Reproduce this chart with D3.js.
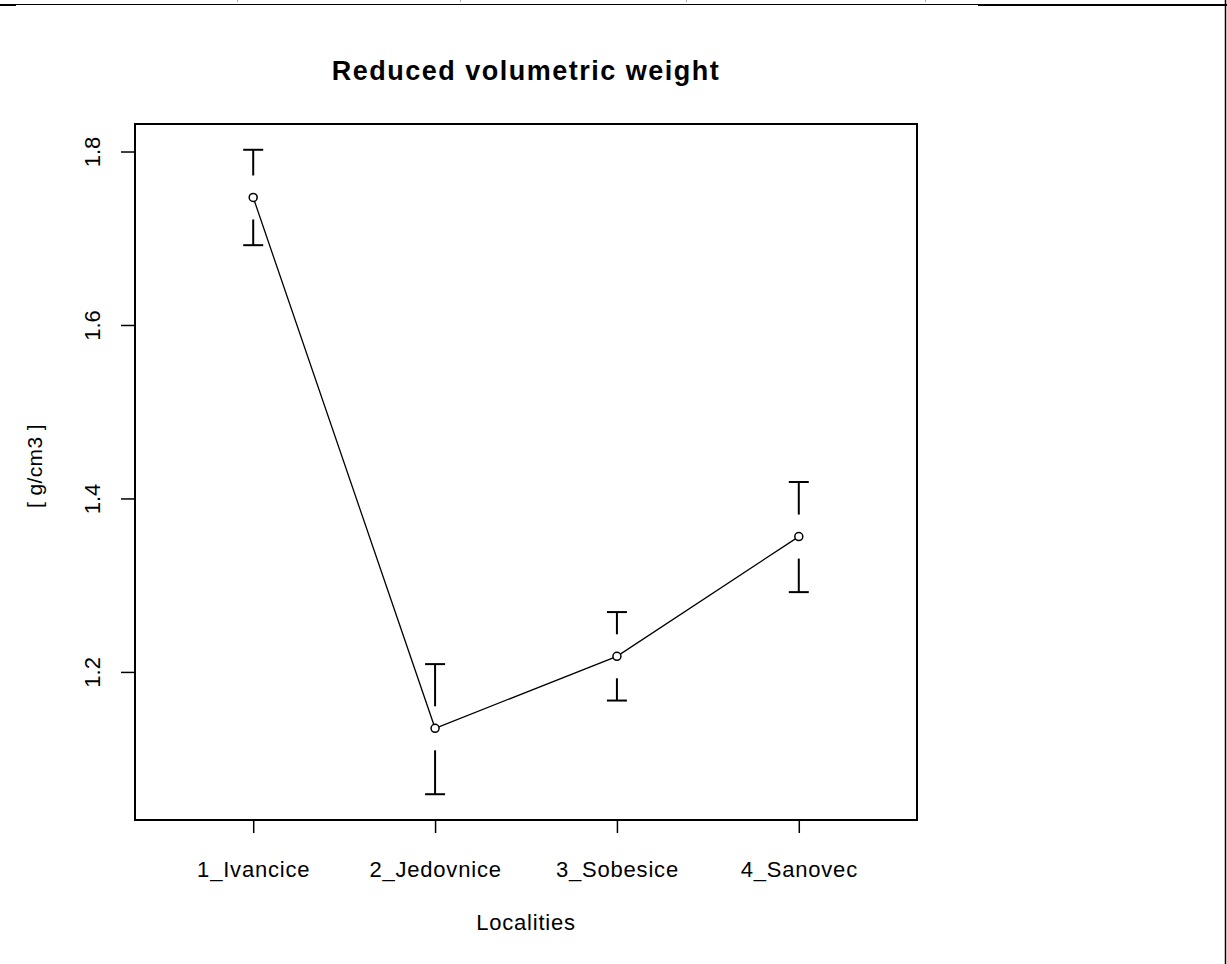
<!DOCTYPE html>
<html>
<head>
<meta charset="utf-8">
<script src="https://cdn.jsdelivr.net/npm/d3@7"></script>
<style>
  html, body { margin: 0; padding: 0; background: #fff; }
  svg { display: block; }
  text { font-family: "Liberation Sans", Arial, sans-serif; fill: #000; }
</style>
</head>
<body>
<svg id="chart" width="1227" height="964"></svg>
<script>
const categories = ["1_Ivancice", "2_Jedovnice", "3_Sobesice", "4_Sanovec"];
const means = [1.747, 1.135, 1.218, 1.356];
const upper = [1.802, 1.209, 1.269, 1.419];
const lower = [1.692, 1.059, 1.167, 1.292];
const yTicks = [1.2, 1.4, 1.6, 1.8];
const title = "Reduced volumetric weight";
const xTitle = "Localities";
const yTitle = "[ g/cm3 ]";

const svg = d3.select("#chart");
const W = 1227, H = 964;
const box = { left: 135, right: 917, top: 124, bottom: 820 };

// frame artifacts along the top / right edge
svg.append("line").attr("x1", 0).attr("x2", W).attr("y1", 4.5).attr("y2", 4.5).attr("stroke", "#000").attr("stroke-width", 1);
svg.append("rect").attr("x", 0).attr("y", 4).attr("width", 16).attr("height", 2).attr("fill", "#000");
svg.append("rect").attr("x", 978).attr("y", 4).attr("width", W - 978).attr("height", 2).attr("fill", "#000");
svg.append("line").attr("x1", 1225.5).attr("x2", 1225.5).attr("y1", 0).attr("y2", H).attr("stroke", "#000").attr("stroke-width", 1.5);
[237, 460, 686, 925].forEach(x => {
  svg.append("line").attr("x1", x + 0.5).attr("x2", x + 0.5).attr("y1", 0).attr("y2", 2).attr("stroke", "#aaa").attr("stroke-width", 1);
});

const x = d3.scaleLinear().domain([0.35, 4.65]).range([box.left, box.right]);
const yMin = d3.min(lower), yMax = d3.max(upper), pad = (yMax - yMin) * 0.04;
const y = d3.scaleLinear().domain([yMin - pad, yMax + pad]).range([box.bottom, box.top]);

// plot box
svg.append("rect")
  .attr("x", box.left).attr("y", box.top)
  .attr("width", box.right - box.left).attr("height", box.bottom - box.top)
  .attr("fill", "none").attr("stroke", "#000").attr("stroke-width", 2);

// title
svg.append("text").attr("x", 526).attr("y", 80).attr("text-anchor", "middle")
  .attr("font-size", 27).attr("font-weight", "bold").attr("letter-spacing", 1.5)
  .text(title);

// x axis
const xAxis = d3.axisBottom(x).tickValues(categories.map((d, i) => i + 1))
  .tickFormat((d) => categories[d - 1]).tickSize(13).tickPadding(28);
const gx = svg.append("g").attr("transform", `translate(0,${box.bottom})`).call(xAxis);
gx.select(".domain").remove();
gx.selectAll(".tick line").attr("stroke", "#000").attr("stroke-width", 1.5);
gx.selectAll(".tick text").attr("font-size", 22).attr("letter-spacing", 0.8)
  .attr("font-family", "Liberation Sans, Arial, sans-serif").attr("fill", "#000");

// y axis
const yAxis = d3.axisLeft(y).tickValues(yTicks).tickFormat(d3.format(".1f")).tickSize(14);
const gy = svg.append("g").attr("transform", `translate(${box.left},0)`).call(yAxis);
gy.select(".domain").remove();
gy.selectAll(".tick line").attr("stroke", "#000").attr("stroke-width", 1.5);
gy.selectAll(".tick text")
  .attr("x", null).attr("dy", null)
  .attr("transform", "translate(-35,0) rotate(-90)")
  .attr("text-anchor", "middle")
  .attr("font-size", 22)
  .attr("font-family", "Liberation Sans, Arial, sans-serif").attr("fill", "#000");

// axis titles
svg.append("text").attr("x", 526).attr("y", 930).attr("text-anchor", "middle")
  .attr("font-size", 22).attr("letter-spacing", 0.8).text(xTitle);
svg.append("text").attr("transform", "translate(42,466) rotate(-90)").attr("text-anchor", "middle")
  .attr("font-size", 21).attr("letter-spacing", 0.4).text(yTitle);

// connecting line
const line = d3.line().x((d, i) => x(i + 1)).y(d => y(d));
svg.append("path").datum(means).attr("d", line)
  .attr("fill", "none").attr("stroke", "#000").attr("stroke-width", 1.3);

// error bars with gap around the point
const gap = 22, cap = 10;
const g = svg.append("g").attr("stroke", "#000").attr("stroke-width", 2);
means.forEach((m, i) => {
  const cx = x(i + 1), cy = y(m), yu = y(upper[i]), yl = y(lower[i]);
  if (cy - gap > yu) g.append("line").attr("x1", cx).attr("x2", cx).attr("y1", yu).attr("y2", cy - gap);
  g.append("line").attr("x1", cx - cap).attr("x2", cx + cap).attr("y1", yu).attr("y2", yu);
  if (cy + gap < yl) g.append("line").attr("x1", cx).attr("x2", cx).attr("y1", cy + gap).attr("y2", yl);
  g.append("line").attr("x1", cx - cap).attr("x2", cx + cap).attr("y1", yl).attr("y2", yl);
});

// points
svg.append("g").selectAll("circle").data(means).join("circle")
  .attr("cx", (d, i) => x(i + 1)).attr("cy", d => y(d)).attr("r", 4)
  .attr("fill", "#fff").attr("stroke", "#000").attr("stroke-width", 1.5);
</script>
</body>
</html>
